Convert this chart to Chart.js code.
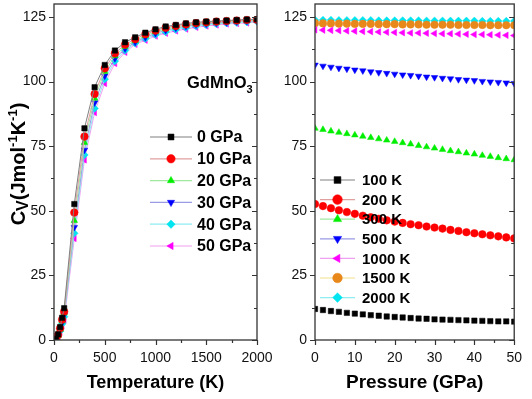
<!DOCTYPE html>
<html>
<head>
<meta charset="utf-8">
<script src="https://cdn.jsdelivr.net/npm/chart.js@4/dist/chart.umd.min.js"></script>
<style>
  body { margin: 0; background: #fff; }
  #wrap { position: relative; width: 532px; height: 399px; overflow: hidden; }
  canvas { position: absolute; top: 0; }
</style>
</head>
<body>
<div id="wrap">
  <canvas id="left" width="300" height="399" style="left:0"></canvas>
  <canvas id="right" width="266" height="399" style="left:266px"></canvas>
</div>
<script>
// left panel: Cv vs temperature, one series per pressure
var temps = [0, 20, 40, 60, 80, 100, 200, 300, 400, 500, 600, 700, 800, 900, 1000,
             1100, 1200, 1300, 1400, 1500, 1600, 1700, 1800, 1900, 2000];
var pressureLabels = ["0 GPa", "10 GPa", "20 GPa", "30 GPa", "40 GPa", "50 GPa"];
var cv0 = [0, 0.4, 2.2, 5.0, 8.6, 12.3, 52.6, 81.9, 97.8, 106.4, 112.0, 115.2, 117.1, 118.9, 120.2, 121.3, 121.9, 122.5, 122.9, 123.2, 123.4, 123.6, 123.8, 124.0, 124.1];
var cv10 = [0, 0.3, 1.9, 4.5, 7.9, 11.0, 49.3, 78.7, 95.2, 105.1, 110.9, 114.3, 116.4, 118.3, 119.7, 120.8, 121.5, 122.1, 122.6, 122.9, 123.2, 123.4, 123.6, 123.8, 123.9];
var cv20 = [0, 0.3, 1.7, 4.1, 7.3, 10.4, 46.2, 76.4, 93.5, 103.8, 109.9, 113.5, 115.8, 117.7, 119.2, 120.3, 121.1, 121.8, 122.3, 122.6, 122.9, 123.2, 123.4, 123.6, 123.7];
var cv30 = [0, 0.2, 1.5, 3.8, 6.7, 9.7, 43.6, 73.5, 91.8, 102.2, 108.9, 112.7, 115.2, 117.1, 118.6, 119.8, 120.7, 121.4, 122.0, 122.3, 122.7, 122.9, 123.2, 123.4, 123.5];
var cv40 = [0, 0.2, 1.4, 3.4, 6.2, 9.0, 41.3, 71.6, 89.6, 100.9, 107.9, 112.0, 114.8, 116.6, 118.1, 119.2, 120.1, 120.8, 121.5, 121.9, 122.3, 122.6, 122.8, 123.0, 123.2];
var cv50 = [0, 0.2, 1.2, 3.0, 5.4, 7.6, 39.3, 69.7, 88.0, 99.3, 107.0, 111.3, 114.4, 116.0, 117.6, 118.7, 119.6, 120.3, 121.0, 121.5, 121.9, 122.3, 122.5, 122.7, 123.0];

// right panel: Cv vs pressure, one series per temperature
var pressures = [0, 2, 4, 6, 8, 10, 12, 14, 16, 18, 20, 22, 24, 26, 28, 30, 32, 34, 36, 38, 40, 42, 44, 46, 48, 50];
var tempLabels = ["100 K", "200 K", "300 K", "500 K", "1000 K", "1500 K", "2000 K"];
var t100 = [12.0, 11.6, 11.2, 10.9, 10.5, 10.2, 9.9, 9.6, 9.4, 9.1, 8.9, 8.7, 8.5, 8.3, 8.2, 8.0, 7.9, 7.8, 7.7, 7.6, 7.5, 7.4, 7.3, 7.2, 7.2, 7.1];
var t200 = [52.6, 51.8, 51.0, 50.2, 49.5, 48.8, 48.1, 47.5, 46.9, 46.3, 45.8, 45.3, 44.8, 44.4, 43.9, 43.5, 43.1, 42.6, 42.2, 41.7, 41.3, 40.9, 40.5, 40.1, 39.7, 39.3];
var t300 = [81.9, 81.4, 80.8, 80.3, 79.8, 79.3, 78.8, 78.3, 77.8, 77.3, 76.8, 76.3, 75.8, 75.2, 74.7, 74.2, 73.7, 73.2, 72.8, 72.3, 71.9, 71.4, 71.0, 70.5, 70.1, 69.7];
var t500 = [106.4, 106.0, 105.6, 105.2, 104.9, 104.5, 104.2, 103.8, 103.5, 103.2, 102.9, 102.6, 102.4, 102.1, 101.8, 101.6, 101.3, 101.1, 100.8, 100.6, 100.4, 100.1, 99.9, 99.7, 99.5, 99.3];
var t1000 = [120.0, 119.9, 119.8, 119.7, 119.6, 119.5, 119.4, 119.3, 119.2, 119.1, 119.0, 118.9, 118.8, 118.8, 118.7, 118.6, 118.5, 118.5, 118.4, 118.3, 118.2, 118.2, 118.1, 118.0, 117.9, 117.8];
var t1500 = [122.6, 122.5, 122.5, 122.4, 122.4, 122.3, 122.3, 122.3, 122.2, 122.2, 122.2, 122.1, 122.1, 122.1, 122.0, 122.0, 122.0, 122.0, 121.9, 121.9, 121.9, 121.9, 121.8, 121.8, 121.8, 121.8];
var t2000 = [123.8, 123.8, 123.8, 123.7, 123.7, 123.7, 123.7, 123.7, 123.6, 123.6, 123.6, 123.6, 123.6, 123.6, 123.5, 123.5, 123.5, 123.5, 123.5, 123.5, 123.5, 123.4, 123.4, 123.4, 123.4, 123.4];

var cvTicks = [0, 25, 50, 75, 100, 125];
var tempTicks = [0, 500, 1000, 1500, 2000];
var pressTicks = [0, 10, 20, 30, 40, 50];

// marker / line styles, in series order
var markers = [
  { style: 'rect', rot: 0, color: '#000000', line: '#808080' },
  { style: 'circle', rot: 0, color: '#ff0000', line: '#e0a0a0' },
  { style: 'triangle', rot: 0, color: '#00ee00', line: '#a0e8a0' },
  { style: 'triangle', rot: 180, color: '#0000ff', line: '#9a9ae6' },
  { style: 'rectRot', rot: 0, color: '#00e5f0', line: '#90ecf0' },
  { style: 'triangle', rot: 270, color: '#ff00ff', line: '#f0a0f0' }
];
var markersRight = [
  markers[0], markers[1], markers[2], markers[3], markers[5],
  { style: 'circle', rot: 0, color: '#e8871a', line: '#f2e08a' },
  markers[4]
];

var FONT = "'Liberation Sans', Arial, sans-serif";

function point(ctx, m, x, y, r) {
  ctx.save();
  ctx.fillStyle = m.color;
  ctx.strokeStyle = m.color;
  ctx.lineWidth = 0.5;
  Chart.helpers.drawPoint(ctx, { pointStyle: m.style, rotation: m.rot, radius: r, borderWidth: 0.5 }, x, y);
  ctx.restore();
}

// box, inward right ticks, outward left/bottom ticks with minors
var framePlugin = {
  id: 'frame',
  afterDraw: function (chart, args, opts) {
    var ctx = chart.ctx, a = chart.chartArea;
    var xs = chart.scales.x, ys = chart.scales.y;
    ctx.save();
    ctx.strokeStyle = '#333';
    ctx.lineWidth = 1.3;
    ctx.strokeRect(a.left, a.top, a.right - a.left, a.bottom - a.top);
    ctx.lineWidth = 1.2;
    ctx.beginPath();
    for (var v = 0; v <= 125; v += 12.5) {
      var py = Math.round(ys.getPixelForValue(v)) + 0.5;
      var len = (v % 25 === 0) ? 5 : 3;
      ctx.moveTo(a.left - len, py); ctx.lineTo(a.left, py);
      ctx.moveTo(a.right - len, py); ctx.lineTo(a.right, py);
    }
    for (var t = xs.min; t <= xs.max + 1e-9; t += opts.minor) {
      var px = Math.round(xs.getPixelForValue(t)) + 0.5;
      var l2 = (Math.abs(t / opts.major - Math.round(t / opts.major)) < 1e-6) ? 5 : 3;
      ctx.moveTo(px, a.bottom); ctx.lineTo(px, a.bottom + l2);
    }
    ctx.stroke();
    ctx.restore();
  }
};

// legend drawn inside the plot
var boxLegend = {
  id: 'boxLegend',
  afterDraw: function (chart, args, o) {
    var ctx = chart.ctx;
    ctx.save();
    o.labels.forEach(function (lab, i) {
      var y = o.y + i * o.gap;
      var m = o.styles[i];
      ctx.strokeStyle = m.line;
      ctx.lineWidth = 1.2;
      ctx.beginPath();
      ctx.moveTo(o.x0, y); ctx.lineTo(o.x1, y);
      ctx.stroke();
      point(ctx, m, (o.x0 + o.x1) / 2, y, o.r);
      ctx.fillStyle = '#000';
      ctx.font = 'bold ' + o.size + 'px ' + FONT;
      ctx.textBaseline = 'middle';
      ctx.fillText(lab, o.tx, y + 1);
    });
    ctx.restore();
  }
};

// rotated y title with sub/superscripts, plus the compound label
var textPlugin = {
  id: 'extraText',
  afterDraw: function (chart) {
    var ctx = chart.ctx;
    ctx.save();
    var parts = [["C", 20, 0], ["V", 16, 3], ["(Jmol", 20, 0], ["-1", 13, -8], ["K", 20, 0], ["-1", 13, -8], [")", 20, 0]];
    var total = 0;
    parts.forEach(function (p) { ctx.font = 'bold ' + p[1] + 'px ' + FONT; total += ctx.measureText(p[0]).width; });
    ctx.translate(25, 164);
    ctx.rotate(-Math.PI / 2);
    ctx.fillStyle = '#000';
    ctx.textBaseline = 'alphabetic';
    var x = -total / 2;
    parts.forEach(function (p) {
      ctx.font = 'bold ' + p[1] + 'px ' + FONT;
      ctx.fillText(p[0], x, p[2]);
      x += ctx.measureText(p[0]).width;
    });
    ctx.restore();

    ctx.save();
    ctx.fillStyle = '#000';
    ctx.font = 'bold 16.5px ' + FONT;
    ctx.textBaseline = 'alphabetic';
    ctx.fillText('GdMnO', 187, 88);
    var w = ctx.measureText('GdMnO').width;
    ctx.font = 'bold 11px ' + FONT;
    ctx.fillText('3', 187 + w, 93);
    ctx.restore();
  }
};

function makeDatasets(xs, series, styles, showLine) {
  return series.map(function (ys, i) {
    var m = styles[i];
    return {
      data: xs.map(function (x, j) { return { x: x, y: ys[j] }; }),
      showLine: showLine,
      borderColor: m.line,
      borderWidth: 1,
      pointStyle: m.style,
      rotation: m.rot,
      pointRadius: 3.8,
      pointBackgroundColor: m.color,
      pointBorderColor: m.color,
      pointBorderWidth: 0.5,
      tension: 0
    };
  });
}

function axes(xMin, xMax, xTicks, xTitle, titleSize, yWidth, xHeight) {
  return {
    x: {
      type: 'linear', min: xMin, max: xMax,
      afterBuildTicks: function (s) { s.ticks = xTicks.map(function (v) { return { value: v }; }); },
      afterFit: function (s) { s.height = xHeight; },
      grid: { display: false, drawTicks: false },
      border: { display: false },
      ticks: {
        autoSkip: false, maxRotation: 0, padding: 10, color: '#111',
        font: { family: FONT, size: 14 },
        callback: function (v) { return String(v); }
      },
      title: { display: true, text: xTitle, color: '#000', padding: { top: 0, bottom: 5 }, font: { family: FONT, size: titleSize, weight: 'bold' } }
    },
    y: {
      type: 'linear', min: 0, max: 130,
      afterBuildTicks: function (s) { s.ticks = cvTicks.map(function (v) { return { value: v }; }); },
      afterFit: function (s) { s.width = yWidth; },
      // invisible tick marks give the label offset; real ticks are drawn by the frame plugin
      grid: { display: false, drawTicks: true, tickLength: 8, tickColor: 'rgba(0,0,0,0)' },
      border: { display: false },
      ticks: { padding: 0, color: '#111', font: { family: FONT, size: 14, lineHeight: 0.3 } }
    }
  };
}

new Chart(document.getElementById('left'), {
  type: 'scatter',
  data: { datasets: makeDatasets(temps, [cv0, cv10, cv20, cv30, cv40, cv50], markers, true) },
  options: {
    responsive: false, animation: false, devicePixelRatio: 1,
    layout: { autoPadding: false, padding: { top: 4, right: 43, left: 0, bottom: 0 } },
    scales: axes(0, 2000, tempTicks, 'Temperature (K)', 18, 54, 59),
    plugins: {
      legend: { display: false }, tooltip: { enabled: false },
      frame: { major: 500, minor: 250 },
      boxLegend: { labels: pressureLabels, styles: markers, x0: 150, x1: 192, tx: 197, y: 137, gap: 21.8, r: 4.2, size: 16 }
    }
  },
  plugins: [framePlugin, boxLegend, textPlugin]
});

new Chart(document.getElementById('right'), {
  type: 'scatter',
  data: { datasets: makeDatasets(pressures, [t100, t200, t300, t500, t1000, t1500, t2000], markersRight, false) },
  options: {
    responsive: false, animation: false, devicePixelRatio: 1,
    layout: { autoPadding: false, padding: { top: 4, right: 13, left: 0, bottom: 0 } },
    scales: axes(0, 50, pressTicks, 'Pressure (GPa)', 19, 49, 59),
    plugins: {
      legend: { display: false }, tooltip: { enabled: false },
      frame: { major: 10, minor: 5 },
      boxLegend: { labels: tempLabels, styles: markersRight, x0: 54, x1: 89, tx: 96, y: 180, gap: 19.6, r: 4.8, size: 15 }
    }
  },
  plugins: [framePlugin, boxLegend]
});
</script>
</body>
</html>
